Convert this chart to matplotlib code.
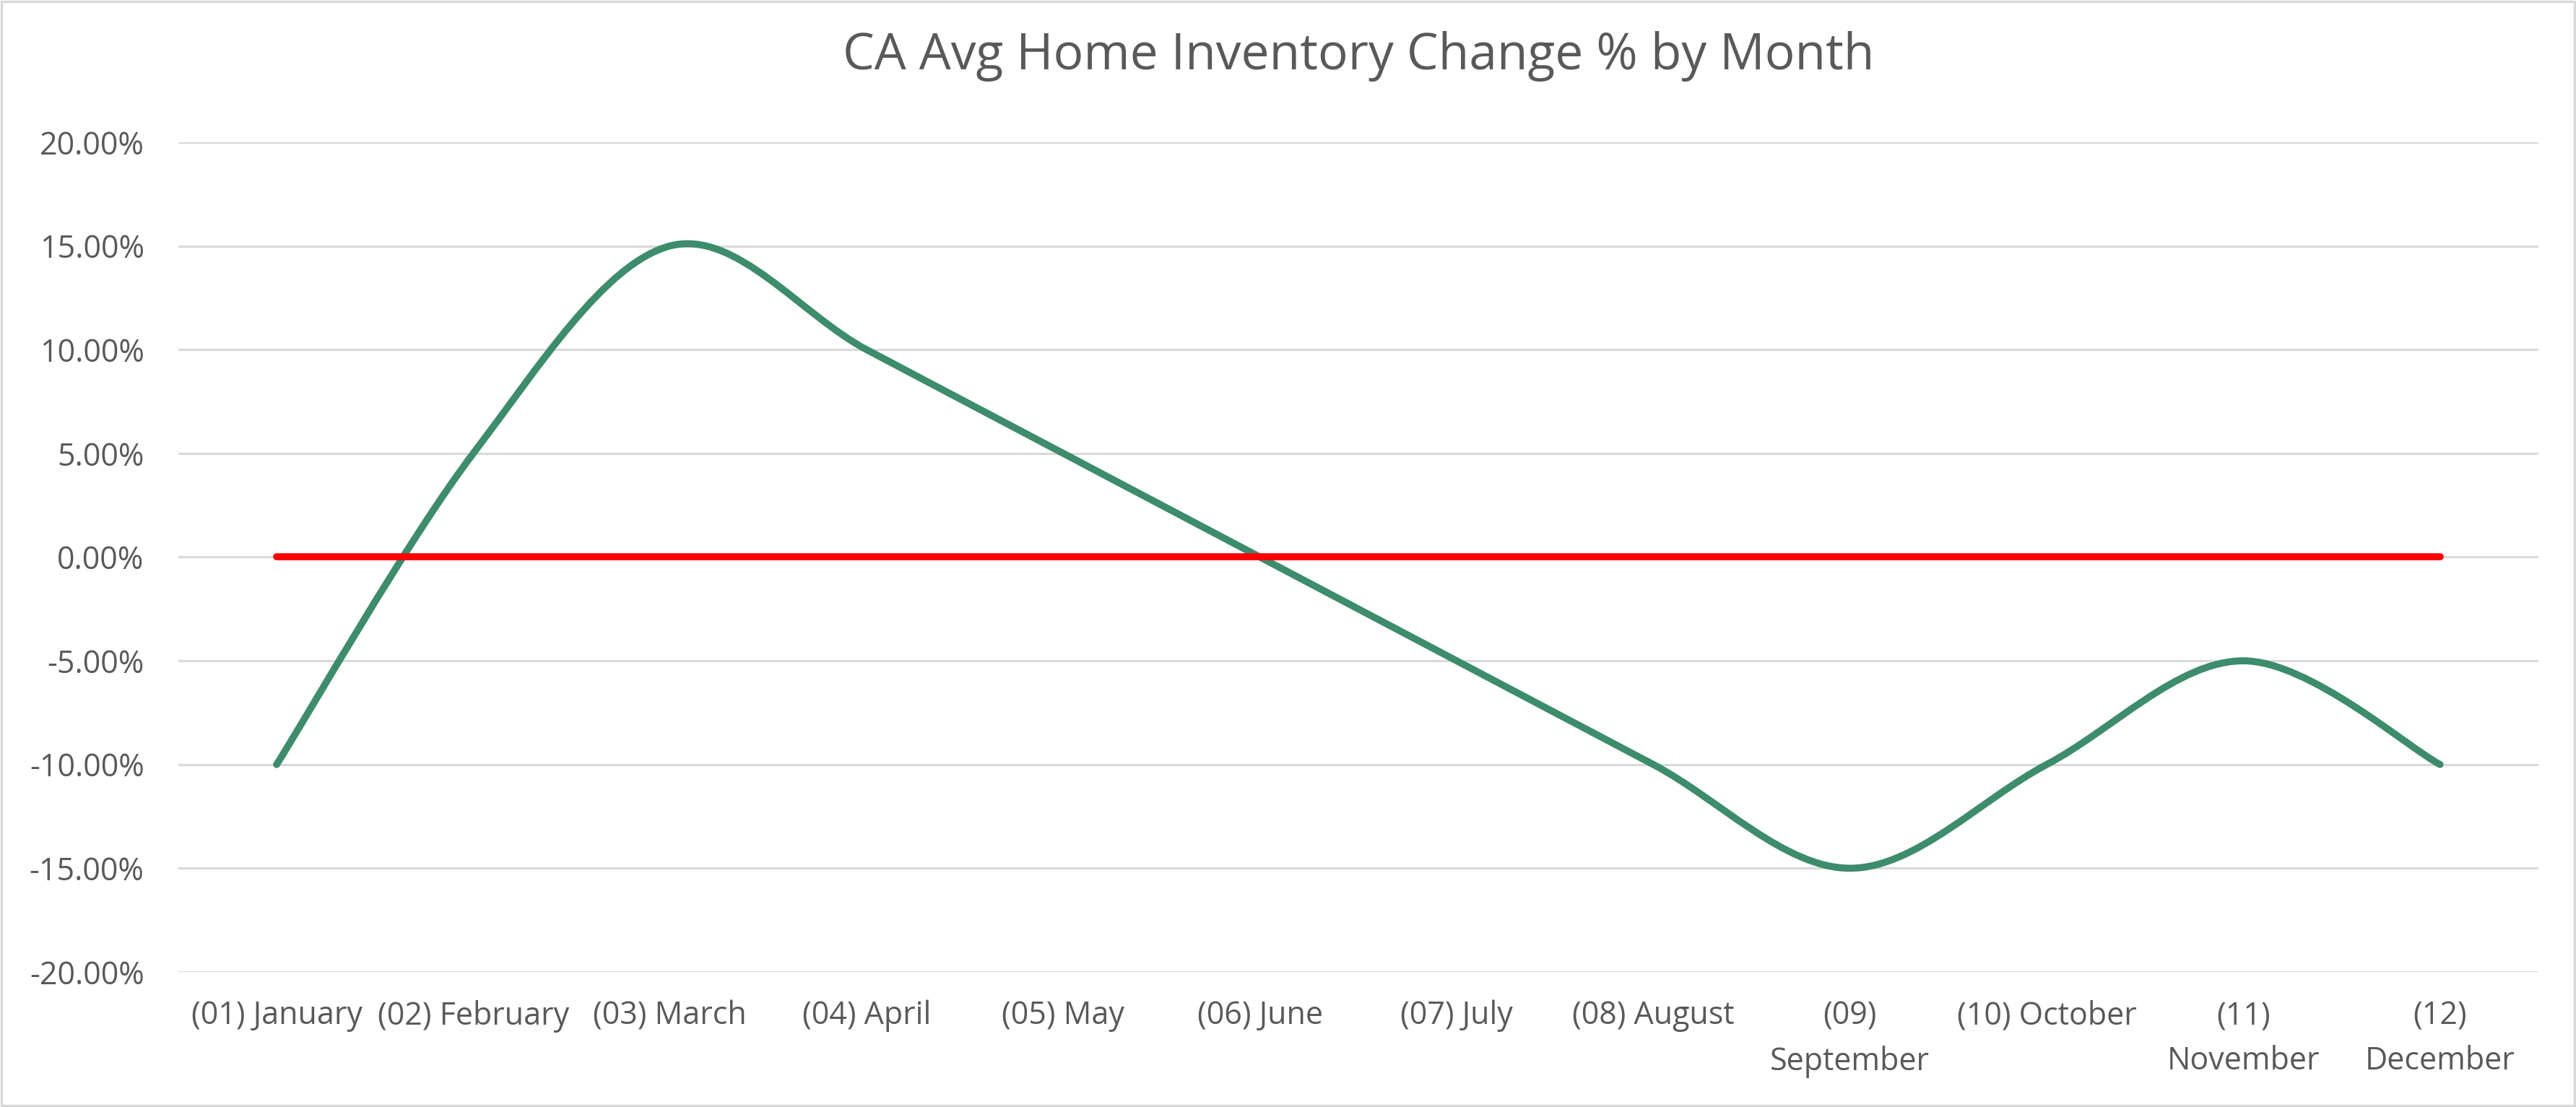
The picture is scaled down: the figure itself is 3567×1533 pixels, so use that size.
import matplotlib
matplotlib.use("Agg")
import matplotlib.pyplot as plt
from matplotlib.path import Path
from matplotlib.patches import PathPatch, Rectangle
from matplotlib.ticker import FuncFormatter
import numpy as np

plt.rcParams['font.family'] = ['Open Sans', 'DejaVu Sans']

months = ["(01) January", "(02) February", "(03) March", "(04) April", "(05) May",
          "(06) June", "(07) July", "(08) August", "(09)\nSeptember", "(10) October",
          "(11)\nNovember", "(12)\nDecember"]
change_pct = [-10, 5, 15, 10, 5, 0, -5, -10, -15, -10, -5, -10]
baseline_pct = [0] * 12
yticks = [-20, -15, -10, -5, 0, 5, 10, 15, 20]
title = "CA Avg Home Inventory Change % by Month"

TEXT = "#595959"
GRID = "#D9D9D9"
GREEN = "#3D8C6C"
RED = "#FF0000"

fig = plt.figure(figsize=(35.67, 15.33), dpi=100)
ax = fig.add_axes([0.0692, 0.122, 0.9162, 0.7495])

x = np.arange(len(months), dtype=float)
y = np.array(change_pct, dtype=float)


def smooth_path(xs, ys):
    pts = np.column_stack([xs, ys])
    n = len(pts)
    verts = [pts[0]]
    codes = [Path.MOVETO]
    for i in range(n - 1):
        p0 = pts[i - 1] if i > 0 else pts[i]
        p1 = pts[i]
        p2 = pts[i + 1]
        p3 = pts[i + 2] if i + 2 < n else pts[i + 1]
        c1 = p1 + (p2 - p0) / 6.0
        c2 = p2 - (p3 - p1) / 6.0
        verts += [c1, c2, p2]
        codes += [Path.CURVE4] * 3
    return Path(verts, codes)


ax.add_patch(PathPatch(smooth_path(x, y), facecolor='none', edgecolor=GREEN,
                       linewidth=7, capstyle='round', joinstyle='round', zorder=3))
ax.plot(x, baseline_pct, color=RED, linewidth=7, solid_capstyle='round', zorder=4)

ax.set_xlim(-0.5, len(months) - 0.5)
ax.set_ylim(-20, 20)
ax.set_yticks(yticks)
ax.yaxis.set_major_formatter(FuncFormatter(lambda v, p: f"{v:.2f}%"))
ax.set_xticks(x)
ax.set_xticklabels(months, linespacing=1.55)
ax.grid(axis='y', color=GRID, linewidth=2.2, zorder=0)
ax.set_axisbelow(True)
for s in ax.spines.values():
    s.set_visible(False)
ax.tick_params(axis='both', length=0, labelsize=31, labelcolor=TEXT)
ax.tick_params(axis='y', pad=34)
ax.tick_params(axis='x', pad=28)
for lab in ax.get_xticklabels():
    lab.set_verticalalignment('top')

fig.text(0.5275, 0.949, title, ha='center', va='center', fontsize=50, color=TEXT)

fig.patches.append(Rectangle((0.0005, 0.001), 0.999, 0.998, transform=fig.transFigure,
                             fill=False, edgecolor=GRID, linewidth=2.5))

fig.savefig("out.png", dpi=100, facecolor='white')
